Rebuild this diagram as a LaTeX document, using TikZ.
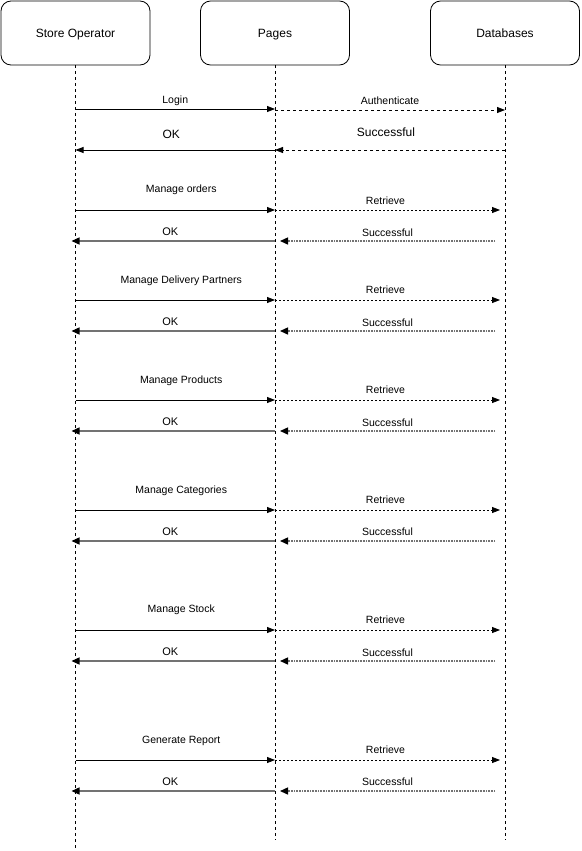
\documentclass[tikz,border=0pt]{standalone}
\usepackage{fontspec}
\setmainfont{Liberation Sans}
\usetikzlibrary{arrows.meta}

\begin{document}
\begin{tikzpicture}[x=1pt,y=-1pt, line width=0.8pt,
        actor/.style={draw, rounded corners=10pt, minimum width=149pt, minimum height=64pt, text height=9pt, text depth=0pt, font=\fontsize{12}{14}\selectfont},
        lifeline/.style={dash pattern=on 3pt off 3pt},
        lbl/.style={midway, inner sep=0pt, text=black, font=\fontsize{10.5}{12}\selectfont},
        biglbl/.style={midway, inner sep=0pt, text=black, font=\fontsize{12}{14}\selectfont},
        call/.style={-{Triangle[length=8pt,width=6pt]}},
        fetch/.style={dash pattern=on 2pt off 2pt, -{Triangle[length=8pt,width=6pt]}},
        reply/.style={black!55, line width=1.4pt, -{Triangle[length=8pt,width=7pt,color=black]}},
        answer/.style={black!55, line width=1.4pt, dash pattern=on 1pt off 0.6pt, -{Triangle[length=8pt,width=7pt,color=black]}}]
        \useasboundingbox (0,0) rectangle (581,851);

        % Participants
        \node[actor] (so) at (75.5,33) {Store Operator};
        \node[actor] (pg) at (275,33) {Pages};
        \node[actor] (db) at (505,33) {Databases};

        % Lifelines
        \draw[lifeline] (so.south) -- (so |- 0,851);
        \draw[lifeline] (pg.south) -- (pg |- 0,840);
        \draw[lifeline] (db.south) -- (db |- 0,840);

        % Login
        \draw[call] (so |- 0,109) -- node[lbl, yshift=8pt]{Login} (pg |- 0,109);
        \draw[call, dash pattern=on 3pt off 3pt] (pg |- 0,110) -- node[lbl, yshift=9pt]{Authenticate} (db |- 0,110);
        \draw[-{Triangle[length=8pt,width=6pt]}, dash pattern=on 3pt off 3pt] (db |- 0,150) -- node[biglbl, yshift=18pt, xshift=-4pt]{Successful} (pg |- 0,150);
        \draw[call] (pg |- 0,150) -- node[biglbl, yshift=16pt, xshift=-4pt]{OK} (so |- 0,150);

        % Manage orders
        \draw[call] (so |- 0,210) -- node[lbl, yshift=20pt, xshift=6pt]{Manage orders} (pg |- 0,210);
        \draw[fetch] (pg |- 0,210) -- node[lbl, yshift=9pt, xshift=-2pt]{Retrieve} ([xshift=-5pt]db |- 0,210);
        \draw[answer] ([xshift=-10pt]db |- 0,241) -- node[lbl, yshift=8pt]{Successful} ([xshift=5pt]pg |- 0,241);
        \draw[reply] (pg |- 0,241) -- node[biglbl, font=\fontsize{11}{13}\selectfont, yshift=9pt, xshift=-3pt]{OK} ([xshift=-4pt]so |- 0,241);

        % Manage Delivery Partners
        \draw[call] (so |- 0,300) -- node[lbl, yshift=19pt, xshift=6pt]{Manage Delivery Partners} (pg |- 0,300);
        \draw[fetch] (pg |- 0,300) -- node[lbl, yshift=10pt, xshift=-2pt]{Retrieve} ([xshift=-5pt]db |- 0,300);
        \draw[answer] ([xshift=-10pt]db |- 0,331) -- node[lbl, yshift=8pt]{Successful} ([xshift=5pt]pg |- 0,331);
        \draw[reply] (pg |- 0,331) -- node[biglbl, font=\fontsize{11}{13}\selectfont, yshift=9pt, xshift=-3pt]{OK} ([xshift=-4pt]so |- 0,331);

        % Manage Products
        \draw[call] (so |- 0,400) -- node[lbl, yshift=19pt, xshift=6pt]{Manage Products} (pg |- 0,400);
        \draw[fetch] (pg |- 0,400) -- node[lbl, yshift=10pt, xshift=-2pt]{Retrieve} ([xshift=-5pt]db |- 0,400);
        \draw[answer] ([xshift=-10pt]db |- 0,431) -- node[lbl, yshift=8pt]{Successful} ([xshift=5pt]pg |- 0,431);
        \draw[reply] (pg |- 0,431) -- node[biglbl, font=\fontsize{11}{13}\selectfont, yshift=9pt, xshift=-3pt]{OK} ([xshift=-4pt]so |- 0,431);

        % Manage Categories
        \draw[call] (so |- 0,510) -- node[lbl, yshift=19pt, xshift=6pt]{Manage Categories} (pg |- 0,510);
        \draw[fetch] (pg |- 0,510) -- node[lbl, yshift=10pt, xshift=-2pt]{Retrieve} ([xshift=-5pt]db |- 0,510);
        \draw[answer] ([xshift=-10pt]db |- 0,541) -- node[lbl, yshift=9pt]{Successful} ([xshift=5pt]pg |- 0,541);
        \draw[reply] (pg |- 0,541) -- node[biglbl, font=\fontsize{11}{13}\selectfont, yshift=9pt, xshift=-3pt]{OK} ([xshift=-4pt]so |- 0,541);

        % Manage Stock
        \draw[call] (so |- 0,630) -- node[lbl, yshift=20pt, xshift=6pt]{Manage Stock} (pg |- 0,630);
        \draw[fetch] (pg |- 0,630) -- node[lbl, yshift=10pt, xshift=-2pt]{Retrieve} ([xshift=-5pt]db |- 0,630);
        \draw[answer] ([xshift=-10pt]db |- 0,661) -- node[lbl, yshift=8pt]{Successful} ([xshift=5pt]pg |- 0,661);
        \draw[reply] (pg |- 0,661) -- node[biglbl, font=\fontsize{11}{13}\selectfont, yshift=9pt, xshift=-3pt]{OK} ([xshift=-4pt]so |- 0,661);

        % Generate Report
        \draw[call] (so |- 0,760) -- node[lbl, yshift=19pt, xshift=6pt]{Generate Report} (pg |- 0,760);
        \draw[fetch] (pg |- 0,760) -- node[lbl, yshift=10pt, xshift=-2pt]{Retrieve} ([xshift=-5pt]db |- 0,760);
        \draw[answer] ([xshift=-10pt]db |- 0,791) -- node[lbl, yshift=9pt]{Successful} ([xshift=5pt]pg |- 0,791);
        \draw[reply] (pg |- 0,791) -- node[biglbl, font=\fontsize{11}{13}\selectfont, yshift=9pt, xshift=-3pt]{OK} ([xshift=-4pt]so |- 0,791);
    \end{tikzpicture}
\end{document}
